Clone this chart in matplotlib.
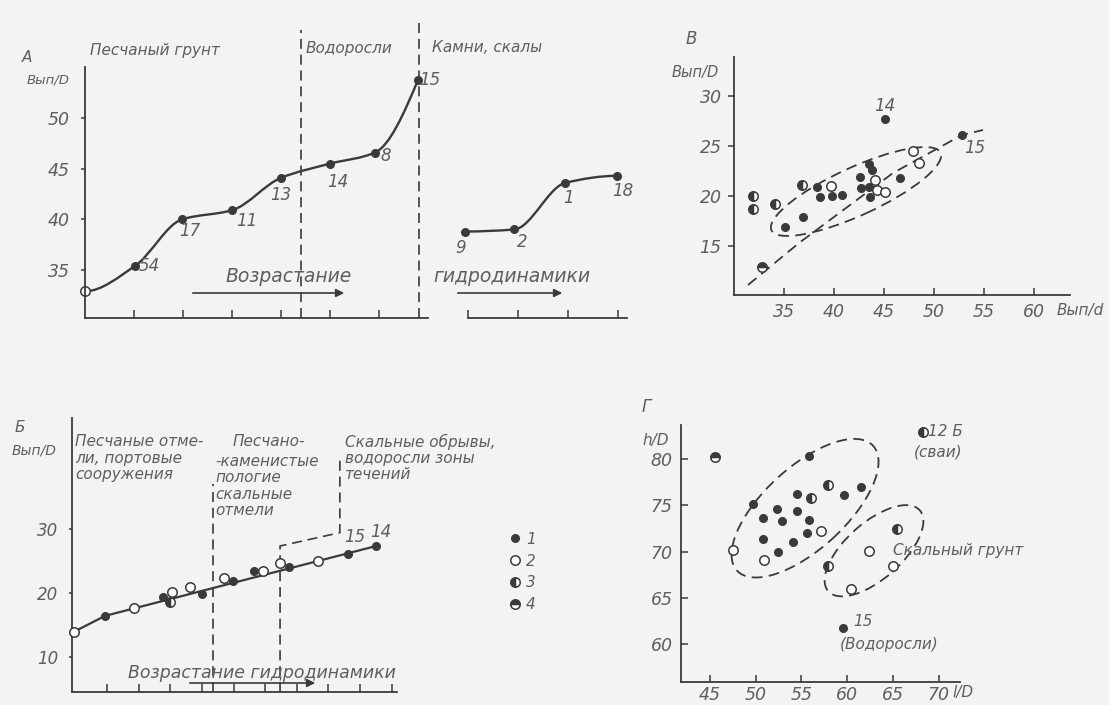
import numpy as np
import matplotlib
matplotlib.use('Agg')
import matplotlib.pyplot as plt
from matplotlib.patches import Ellipse, PathPatch
from matplotlib.path import Path
from matplotlib.lines import Line2D

plt.rcParams['font.family'] = ['DejaVu Sans']
plt.rcParams['font.style'] = 'italic'

W, H = 1109, 705
INK = '#3a3a3a'
GREY = '#5e5e5e'
PAPER = '#f3f3f1'

# --- panel A: Вып/D along increasing hydrodynamics (two curves)
a1_x = [0.0, 1.02, 1.98, 3.0, 4.0, 5.0, 5.92, 6.8]
a1_y = [32.9, 35.4, 40.0, 40.9, 44.1, 45.5, 46.6, 53.8]
a1_lab = ['', '54', '17', '11', '13', '14', '8', '15']
a2_x = [7.76, 8.76, 9.8, 10.86]
a2_y = [38.8, 39.0, 43.6, 44.3]
a2_lab = ['9', '2', '1', '18']
a_ticks = [1, 2, 3, 4, 5, 6, 7.82, 8.84, 9.86, 10.88]
a_yticks = [35, 40, 45, 50]

# --- panel Б: Вып/D, point kinds 1..4
b_x = [-0.04, 0.94, 1.86, 2.76, 2.99, 3.05, 3.64, 3.99, 4.69, 4.99, 5.64,
       5.93, 6.46, 6.75, 7.67, 8.62, 9.51]
b_y = [13.9, 16.4, 17.6, 19.4, 18.6, 20.2, 21.0, 19.9, 22.3, 21.9, 23.5,
       23.5, 24.8, 24.1, 25.1, 26.1, 27.4]
b_kind = [2, 1, 2, 1, 3, 2, 2, 1, 2, 1, 1, 2, 2, 1, 2, 1, 1]
b_line_x = [-0.04, 0.94, 9.51]
b_line_y = [13.9, 16.4, 27.4]
b_yticks = [10, 20, 30]

# --- panel В: Вып/D vs Вып/d
c_x = [45.1, 52.8, 31.9, 31.9, 34.1, 32.8, 36.8, 35.1, 36.9, 38.3, 38.6,
       39.7, 39.8, 40.8, 42.6, 42.7, 43.5, 43.6, 43.5, 43.8, 44.1, 44.3,
       45.1, 46.6, 47.9, 48.5]
c_y = [27.7, 26.1, 20.0, 18.7, 19.2, 12.9, 21.1, 16.9, 17.9, 20.9, 19.9,
       21.0, 20.0, 20.1, 21.9, 20.8, 20.9, 19.9, 23.2, 22.6, 21.6, 20.6,
       20.4, 21.8, 24.5, 23.3]
c_kind = [1, 1, 3, 3, 3, 4, 3, 1, 1, 1, 1, 2, 1, 1, 1, 1, 1, 1, 1, 1,
          2, 2, 2, 1, 2, 2]
c_trend_x = [31.4, 36.5, 45.9, 52.8, 54.9]
c_trend_y = [11.1, 15.3, 22.3, 26.1, 26.6]

# --- panel Г: h/D vs l/D
d_x = [45.5, 47.5, 49.7, 50.8, 50.8, 50.9, 52.3, 52.9, 52.4, 54.5, 54.5,
       54.1, 55.8, 55.8, 55.6, 56.1, 57.1, 57.9, 59.7, 61.5, 57.9, 60.4,
       62.4, 65.0, 65.5, 59.5, 68.3]
d_y = [80.2, 70.2, 75.2, 73.6, 71.4, 69.1, 74.6, 73.3, 70.0, 76.2, 74.4,
       71.1, 80.3, 73.4, 72.0, 75.8, 72.2, 77.2, 76.1, 77.0, 68.4, 66.0,
       70.1, 68.4, 72.4, 61.7, 82.9]
d_kind = [4, 2, 1, 1, 1, 2, 1, 1, 1, 1, 1, 1, 1, 1, 1, 3, 2, 3, 1, 1, 3,
          2, 2, 2, 3, 1, 3]

legend_labels = ['1', '2', '3', '4']


def marker_style(kind):
    if kind == 1:
        return dict(marker='o', ms=5.5, mfc=INK, mec=INK, mew=1)
    if kind == 2:
        return dict(marker='o', ms=6.8, mfc='white', mec=INK, mew=1.1)
    if kind == 3:
        return dict(marker='o', ms=6.8, fillstyle='left', mfc=INK,
                    markerfacecoloralt='white', mec=INK, mew=1.1)
    return dict(marker='o', ms=6.8, fillstyle='top', mfc=INK,
                markerfacecoloralt='white', mec=INK, mew=1.1)


def scatter_kinds(ax, xs, ys, kinds):
    xs, ys, kinds = np.asarray(xs), np.asarray(ys), np.asarray(kinds)
    for k in (1, 2, 3, 4):
        m = kinds == k
        if m.any():
            ax.plot(xs[m], ys[m], ls='none', zorder=5, clip_on=False,
                    **marker_style(k))


def smooth_path(x, y, flat_start=False):
    # monotone cubic through the points, drawn as bezier segments
    x = np.asarray(x, float)
    y = np.asarray(y, float)
    h = np.diff(x)
    d = np.diff(y) / h
    m = np.zeros_like(x)
    for k in range(1, len(x) - 1):
        if d[k - 1] * d[k] > 0:
            w1 = 2 * h[k] + h[k - 1]
            w2 = h[k] + 2 * h[k - 1]
            m[k] = (w1 + w2) / (w1 / d[k - 1] + w2 / d[k])
    if not flat_start:
        m[0] = max(((2 * h[0] + h[1]) * d[0] - h[0] * d[1]) / (h[0] + h[1]), 0)
    m[-1] = max(((2 * h[-1] + h[-2]) * d[-1] - h[-1] * d[-2]) / (h[-1] + h[-2]), 0)
    verts = [(x[0], y[0])]
    codes = [Path.MOVETO]
    for k in range(len(x) - 1):
        verts += [(x[k] + h[k] / 3, y[k] + m[k] * h[k] / 3),
                  (x[k + 1] - h[k] / 3, y[k + 1] - m[k + 1] * h[k] / 3),
                  (x[k + 1], y[k + 1])]
        codes += [Path.CURVE4] * 3
    return Path(verts, codes)


fig = plt.figure(figsize=(W / 100, H / 100), dpi=100, facecolor=PAPER)


def px_axes(left, right, top, bottom, xlim, ylim):
    ax = fig.add_axes([left / W, 1 - bottom / H, (right - left) / W,
                       (bottom - top) / H])
    ax.set_xlim(xlim)
    ax.set_ylim(ylim)
    ax.set_facecolor('none')
    for s in ('top', 'right'):
        ax.spines[s].set_visible(False)
    for s in ('left', 'bottom'):
        ax.spines[s].set_color(INK)
        ax.spines[s].set_linewidth(1.3)
    ax.tick_params(colors=INK, labelcolor=GREY, labelsize=12.5, width=1.1)
    return ax


def ftext(x, y, s, size=11, ha='left', va='center', **kw):
    fig.text(x / W, 1 - y / H, s, fontsize=size, color=GREY, ha=ha, va=va, **kw)


def farrow(x1, x2, y):
    fig.add_artist(matplotlib.patches.FancyArrowPatch(
        (x1 / W, 1 - y / H), (x2 / W, 1 - y / H), transform=fig.transFigure,
        arrowstyle='-|>', mutation_scale=12, color=INK, lw=1.2))


dash = (0, (6, 3.5))

# ================= A =================
axA = px_axes(85, 640, 10, 318, (0, (640 - 85) / 49), (30.26, 60.67))
axA.spines['bottom'].set_visible(False)
axA.spines['left'].set_bounds(30.26, 55.04)
axA.set_yticks(a_yticks)
axA.set_xticks(a_ticks)
axA.set_xticklabels([])
axA.tick_params(axis='x', direction='in', length=6)
axA.tick_params(axis='y', direction='out', length=3, pad=8)
axA.plot([0, 7.0], [30.26, 30.26], color=INK, lw=1.3, clip_on=False)
axA.plot([7.82, 11.06], [30.26, 30.26], color=INK, lw=1.3, clip_on=False)
axA.add_patch(PathPatch(smooth_path(a1_x, a1_y, flat_start=True), fill=False,
                        ec=INK, lw=1.7))
axA.add_patch(PathPatch(smooth_path(a2_x, a2_y), fill=False, ec=INK, lw=1.7))
axA.plot(a1_x[1:], a1_y[1:], ls='none', **marker_style(1))
axA.plot(a2_x, a2_y, ls='none', **marker_style(1))
axA.plot(a1_x[:1], a1_y[:1], ls='none', clip_on=False, **marker_style(2))
a_off = [(0, 0), (14, 0), (8, -12), (15, -11), (0, -17), (8, -18), (11, -3),
         (12, 0)]
for x, y, s, o in zip(a1_x, a1_y, a1_lab, a_off):
    if s:
        axA.annotate(s, (x, y), xytext=o, textcoords='offset pixels',
                     ha='center', va='center', fontsize=12, color=GREY)
for x, y, s, o in zip(a2_x, a2_y, a2_lab, [(-5, -16), (8, -13), (3, -15), (6, -15)]):
    axA.annotate(s, (x, y), xytext=o, textcoords='offset pixels',
                 ha='center', va='center', fontsize=12, color=GREY)
axA.plot([4.41, 4.41], [30.26, 58.7], color=INK, lw=1.2, ls=dash, clip_on=False)
axA.plot([6.82, 6.82], [30.26, 59.9], color=INK, lw=1.2, ls=dash, clip_on=False)
ftext(22, 57, 'А', 11)
ftext(48, 80, 'Вып/D', 9.5, ha='center')
ftext(90, 50, 'Песчаный грунт', 11)
ftext(306, 48, 'Водоросли', 11)
ftext(432, 47, 'Камни, скалы', 11)
ftext(225, 277, 'Возрастание', 13.5)
ftext(433, 277, 'гидродинамики', 13.5)
farrow(190, 347, 293)
farrow(455, 565, 293)

# ================= Б =================
axB = px_axes(72, 400, 400, 692, (-0.104, 10.26), (4.41, 50.39))
axB.spines['left'].set_bounds(4.41, 47.56)
axB.spines['bottom'].set_bounds(-0.104, 10.16)
axB.set_xticks(range(1, 11))
axB.set_xticklabels([])
axB.set_yticks(b_yticks)
axB.tick_params(axis='x', direction='in', length=6)
axB.tick_params(axis='y', direction='out', length=2, pad=8, labelsize=12)
axB.plot(b_line_x, b_line_y, color=INK, lw=1.6, zorder=3, clip_on=False)
scatter_kinds(axB, b_x, b_y, b_kind)
axB.plot([4.36, 4.36], [4.41, 37.1], color=INK, lw=1.2, ls=dash)
axB.plot([6.47, 6.47, 8.36, 8.36], [4.41, 27.4, 29.5, 41.3], color=INK,
         lw=1.2, ls=dash)
ftext(15, 427, 'Б', 11)
ftext(34, 450, 'Вып/D', 10, ha='center')
ftext(75, 458, 'Песчаные отме-\nли, портовые\nсооружения', 11,
      linespacing=1.1)
ftext(233, 441, 'Песчано-', 11)
ftext(215, 486, '-каменистые\nпологие\nскальные\nотмели', 11,
      linespacing=1.1)
ftext(345, 458, 'Скальные обрывы,\nводоросли зоны\nтечений', 11,
      linespacing=1.1)
ftext(128, 673, 'Возрастание гидродинамики', 12.5)
farrow(187, 318, 683)
ftext(355, 537, '15', 12, ha='center')
ftext(381, 532, '14', 12, ha='center')

handles = [Line2D([], [], ls='none', **marker_style(k)) for k in (1, 2, 3, 4)]
fig.legend(handles, legend_labels, loc='upper left',
           bbox_to_anchor=(503 / W, 1 - 524 / H), frameon=False,
           handlelength=0.6, handletextpad=0.4, labelspacing=0.45,
           fontsize=11, labelcolor=GREY, borderpad=0)

# ================= В =================
axC = px_axes(734, 1075, 30, 295, (30, 64.1), (10.1, 36.6))
axC.spines['left'].set_bounds(10.1, 33.9)
axC.spines['bottom'].set_bounds(30, 63.6)
axC.set_xticks([35, 40, 45, 50, 55, 60])
axC.set_yticks([15, 20, 25, 30])
axC.tick_params(axis='x', direction='in', length=5, pad=6)
axC.tick_params(axis='y', direction='out', length=4, pad=5)
axC.plot(c_trend_x, c_trend_y, color=INK, lw=1.3, ls=dash, zorder=3)
axC.add_patch(Ellipse((42.2, 20.45), 18.6, 4.8, angle=24.6, fill=False,
                      ec=INK, lw=1.3, ls=dash))
scatter_kinds(axC, c_x, c_y, c_kind)
axC.annotate('14', (c_x[0], c_y[0]), xytext=(0, 13), textcoords='offset pixels',
             ha='center', va='center', fontsize=12, color=GREY)
axC.annotate('15', (c_x[1], c_y[1]), xytext=(13, -13), textcoords='offset pixels',
             ha='center', va='center', fontsize=12, color=GREY)
ftext(686, 39, 'В', 12)
ftext(695, 72, 'Вып/D', 10.5, ha='center')
ftext(1080, 310, 'Вып/d', 11, ha='center')

# ================= Г =================
axD = px_axes(681, 975, 395, 682, (41.83, 73.99), (55.91, 86.94))
axD.spines['left'].set_bounds(55.91, 83.7)
axD.spines['bottom'].set_bounds(41.83, 72.35)
axD.set_xticks([45, 50, 55, 60, 65, 70])
axD.set_yticks([60, 65, 70, 75, 80])
axD.tick_params(axis='x', direction='in', length=5, pad=3)
axD.tick_params(axis='y', direction='in', length=5, pad=6)
axD.add_patch(Ellipse((55.4, 74.7), 20.1, 8.9, angle=42, fill=False,
                      ec=INK, lw=1.3, ls=dash))
axD.add_patch(Ellipse((62.94, 70.1), 13.3, 6.1, angle=41, fill=False,
                      ec=INK, lw=1.3, ls=dash))
scatter_kinds(axD, d_x, d_y, d_kind)
ftext(642, 407, 'Г', 12)
ftext(656, 440, 'h/D', 11, ha='center')
ftext(963, 693, 'l/D', 11, ha='center')
ftext(928, 432, '12 Б', 11)
ftext(914, 452, '(сваи)', 11)
ftext(893, 550, 'Скальный грунт', 11)
ftext(853, 621, '15', 11)
ftext(840, 645, '(Водоросли)', 11)

fig.savefig('out.png', dpi=100, facecolor=PAPER)
